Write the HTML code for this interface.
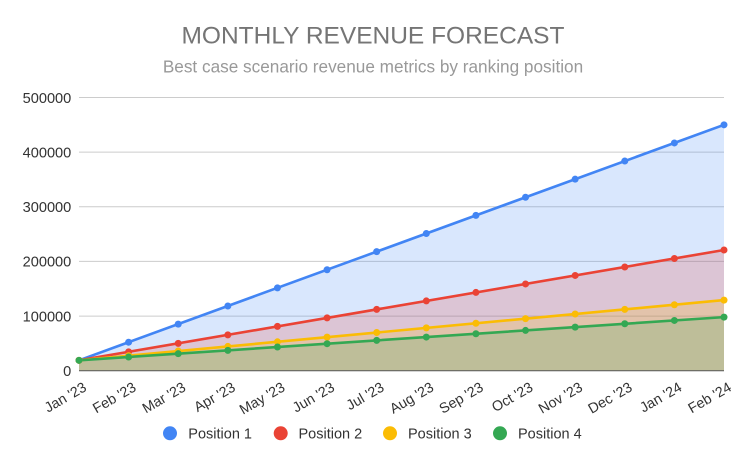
<!DOCTYPE html>
<html><head><meta charset="utf-8"><style>
html,body{margin:0;padding:0;background:#fff;}
svg{display:block;font-family:"Liberation Sans",Arial,sans-serif;}
</style></head><body>
<svg width="746" height="462" viewBox="0 0 746 462" xmlns="http://www.w3.org/2000/svg">
<rect width="746" height="462" fill="#fff"/>
<text x="373" y="43.5" text-anchor="middle" font-size="24.5" fill="#757575">MONTHLY REVENUE FORECAST</text>
<text x="373" y="72.7" text-anchor="middle" font-size="17.2" fill="#999999">Best case scenario revenue metrics by ranking position</text>
<g stroke="#cccccc" stroke-width="1">
<line x1="79" y1="97.5" x2="724" y2="97.5"/>
<line x1="79" y1="152.1" x2="724" y2="152.1"/>
<line x1="79" y1="206.8" x2="724" y2="206.8"/>
<line x1="79" y1="261.4" x2="724" y2="261.4"/>
<line x1="79" y1="316.1" x2="724" y2="316.1"/>
</g>
<g font-size="14.6" fill="#333" text-anchor="end">
<text x="71.3" y="103">500000</text>
<text x="71.3" y="157.4">400000</text>
<text x="71.3" y="212">300000</text>
<text x="71.3" y="266.6">200000</text>
<text x="71.3" y="321.3">100000</text>
<text x="71.3" y="375.9">0</text>
</g>
<g stroke="none">
<polygon points="79,370.7 79,360.32 724,124.82 724,370.7" fill="#4285f4" fill-opacity="0.2"/>
<polygon points="79,370.7 79,360.32 724,250 724,370.7" fill="#ea4335" fill-opacity="0.2"/>
<polygon points="79,370.7 79,360.32 724,300.09 724,370.7" fill="#fbbc04" fill-opacity="0.2"/>
<polygon points="79,370.7 79,360.32 724,317.13 724,370.7" fill="#34a853" fill-opacity="0.2"/>
</g>
<line x1="79" y1="370.7" x2="724" y2="370.7" stroke="#555" stroke-width="1"/>
<g stroke-width="2.6" fill="none" stroke-linecap="round">
<line x1="79" y1="360.32" x2="724" y2="124.82" stroke="#4285f4"/>
<line x1="79" y1="360.32" x2="724" y2="250" stroke="#ea4335"/>
<line x1="79" y1="360.32" x2="724" y2="300.09" stroke="#fbbc04"/>
<line x1="79" y1="360.32" x2="724" y2="317.13" stroke="#34a853"/>
</g>
<g fill="#4285f4">
<circle cx="79" cy="360.32" r="3.5"/><circle cx="128.62" cy="342.21" r="3.5"/><circle cx="178.23" cy="324.09" r="3.5"/><circle cx="227.85" cy="305.97" r="3.5"/><circle cx="277.46" cy="287.86" r="3.5"/><circle cx="327.08" cy="269.74" r="3.5"/><circle cx="376.69" cy="251.63" r="3.5"/><circle cx="426.31" cy="233.52" r="3.5"/><circle cx="475.92" cy="215.4" r="3.5"/><circle cx="525.54" cy="197.28" r="3.5"/><circle cx="575.15" cy="179.17" r="3.5"/><circle cx="624.77" cy="161.05" r="3.5"/><circle cx="674.38" cy="142.94" r="3.5"/><circle cx="724" cy="124.82" r="3.5"/>
</g>
<g fill="#ea4335">
<circle cx="79" cy="360.32" r="3.5"/><circle cx="128.62" cy="351.83" r="3.5"/><circle cx="178.23" cy="343.35" r="3.5"/><circle cx="227.85" cy="334.86" r="3.5"/><circle cx="277.46" cy="326.38" r="3.5"/><circle cx="327.08" cy="317.89" r="3.5"/><circle cx="376.69" cy="309.4" r="3.5"/><circle cx="426.31" cy="300.92" r="3.5"/><circle cx="475.92" cy="292.43" r="3.5"/><circle cx="525.54" cy="283.95" r="3.5"/><circle cx="575.15" cy="275.46" r="3.5"/><circle cx="624.77" cy="266.97" r="3.5"/><circle cx="674.38" cy="258.49" r="3.5"/><circle cx="724" cy="250" r="3.5"/>
</g>
<g fill="#fbbc04">
<circle cx="79" cy="360.32" r="3.5"/><circle cx="128.62" cy="355.69" r="3.5"/><circle cx="178.23" cy="351.05" r="3.5"/><circle cx="227.85" cy="346.42" r="3.5"/><circle cx="277.46" cy="341.79" r="3.5"/><circle cx="327.08" cy="337.15" r="3.5"/><circle cx="376.69" cy="332.52" r="3.5"/><circle cx="426.31" cy="327.89" r="3.5"/><circle cx="475.92" cy="323.26" r="3.5"/><circle cx="525.54" cy="318.62" r="3.5"/><circle cx="575.15" cy="313.99" r="3.5"/><circle cx="624.77" cy="309.36" r="3.5"/><circle cx="674.38" cy="304.72" r="3.5"/><circle cx="724" cy="300.09" r="3.5"/>
</g>
<g fill="#34a853">
<circle cx="79" cy="360.32" r="3.5"/><circle cx="128.62" cy="357" r="3.5"/><circle cx="178.23" cy="353.68" r="3.5"/><circle cx="227.85" cy="350.35" r="3.5"/><circle cx="277.46" cy="347.03" r="3.5"/><circle cx="327.08" cy="343.71" r="3.5"/><circle cx="376.69" cy="340.39" r="3.5"/><circle cx="426.31" cy="337.07" r="3.5"/><circle cx="475.92" cy="333.74" r="3.5"/><circle cx="525.54" cy="330.42" r="3.5"/><circle cx="575.15" cy="327.1" r="3.5"/><circle cx="624.77" cy="323.78" r="3.5"/><circle cx="674.38" cy="320.46" r="3.5"/><circle cx="724" cy="317.13" r="3.5"/>
</g>
<g font-size="14.3" fill="#333" text-anchor="end">
<text transform="translate(87.5,390) rotate(-30)">Jan '23</text>
<text transform="translate(137.12,390) rotate(-30)">Feb '23</text>
<text transform="translate(186.73,390) rotate(-30)">Mar '23</text>
<text transform="translate(236.35,390) rotate(-30)">Apr '23</text>
<text transform="translate(285.96,390) rotate(-30)">May '23</text>
<text transform="translate(335.58,390) rotate(-30)">Jun '23</text>
<text transform="translate(385.19,390) rotate(-30)">Jul '23</text>
<text transform="translate(434.81,390) rotate(-30)">Aug '23</text>
<text transform="translate(484.42,390) rotate(-30)">Sep '23</text>
<text transform="translate(534.04,390) rotate(-30)">Oct '23</text>
<text transform="translate(583.65,390) rotate(-30)">Nov '23</text>
<text transform="translate(633.27,390) rotate(-30)">Dec '23</text>
<text transform="translate(682.88,390) rotate(-30)">Jan '24</text>
<text transform="translate(732.5,390) rotate(-30)">Feb '24</text>
</g>
<circle cx="170" cy="433.3" r="7" fill="#4285f4"/>
<circle cx="280.7" cy="433.3" r="7" fill="#ea4335"/>
<circle cx="390" cy="433.3" r="7" fill="#fbbc04"/>
<circle cx="500" cy="433.3" r="7" fill="#34a853"/>
<g font-size="14.5" fill="#333">
<text x="188.3" y="438.3">Position 1</text>
<text x="298.5" y="438.3">Position 2</text>
<text x="408" y="438.3">Position 3</text>
<text x="518" y="438.3">Position 4</text>
</g>
</svg>
</body></html>
